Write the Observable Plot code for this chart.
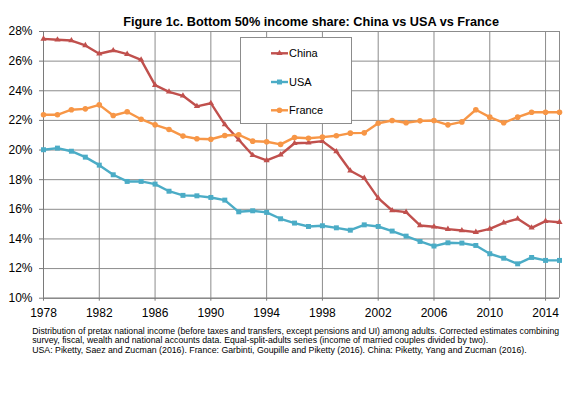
<!DOCTYPE html>
<html><head><meta charset="utf-8">
<script src="https://cdn.jsdelivr.net/npm/d3@7"></script>
<script src="https://cdn.jsdelivr.net/npm/@observablehq/plot@0.6"></script>
<style>
body{margin:0;background:#fff;font-family:Arial,"Liberation Sans",sans-serif;}
#wrap{position:relative;width:569px;height:398px;overflow:hidden;background:#fff}
#chart{position:absolute;left:0;top:0}
#legend{position:absolute;left:240px;top:37px;width:112px;height:87px;border:1px solid #8c8c8c;background:#fff;box-sizing:border-box}
#texts{position:absolute;left:0;top:0;pointer-events:none}
</style></head><body>
<div id="wrap"><div id="chart"></div>
<div id="legend"></div>
<svg id="texts" width="569" height="398"></svg></div>
<script>
const years = [1978,1979,1980,1981,1982,1983,1984,1985,1986,1987,1988,1989,1990,1991,1992,1993,1994,1995,1996,1997,1998,1999,2000,2001,2002,2003,2004,2005,2006,2007,2008,2009,2010,2011,2012,2013,2014,2015];
const china = [27.5,27.44,27.39,27.06,26.5,26.72,26.47,26.09,24.38,23.93,23.66,22.95,23.16,21.72,20.69,19.65,19.3,19.68,20.46,20.49,20.6,19.9,18.6,18.1,16.75,15.92,15.81,14.91,14.82,14.66,14.57,14.46,14.68,15.09,15.36,14.75,15.2,15.13];
const usa = [20.02,20.13,19.92,19.52,18.98,18.33,17.88,17.88,17.7,17.22,16.94,16.91,16.8,16.62,15.83,15.9,15.79,15.36,15.07,14.84,14.89,14.75,14.59,14.95,14.84,14.53,14.19,13.83,13.52,13.74,13.72,13.56,13.0,12.7,12.32,12.75,12.55,12.55];
const france = [22.38,22.38,22.72,22.78,23.05,22.33,22.58,22.08,21.7,21.39,20.94,20.76,20.73,20.98,21.03,20.6,20.56,20.38,20.85,20.8,20.87,20.96,21.14,21.16,21.81,21.99,21.84,21.97,21.99,21.7,21.9,22.72,22.22,21.84,22.22,22.55,22.55,22.55];
const xTicks = [1978,1982,1986,1990,1994,1998,2002,2006,2010,2014];
const yTicks = [10,12,14,16,18,20,22,24,26,28];
const seriesNames = ["China","USA","France"];
const seriesColors = ["#C0504D","#4BACC6","#F79646"];
const seriesSymbols = ["triangle","square","circle"];
const seriesValues = [china, usa, france];
const titleText = "Figure 1c. Bottom 50% income share: China vs USA vs France";
const captionLines = [
 "Distribution of pretax national income (before taxes and transfers, except pensions and UI) among adults. Corrected estimates combining",
 "survey, fiscal, wealth and national accounts data. Equal-split-adults series (income of married couples divided by two).",
 "USA: Piketty, Saez and Zucman (2016). France: Garbinti, Goupille and Piketty (2016). China: Piketty, Yang and Zucman (2016)."
];
const FONT = "Arial, 'Liberation Sans', sans-serif";

const seriesMarks = seriesNames.flatMap((name, k) => {
  const rows = years.map((yr, i) => ({year: yr, value: seriesValues[k][i]}));
  return [
    Plot.line(rows, {x: "year", y: "value", stroke: seriesColors[k], strokeWidth: 2.4}),
    Plot.dot(rows, {x: "year", y: "value", fill: seriesColors[k], stroke: "none", symbol: seriesSymbols[k], r: seriesSymbols[k] === "triangle" ? 2.3 : 2.8})
  ];
});

const plot = Plot.plot({
  width: 569, height: 322,
  marginTop: 31, marginBottom: 24.3, marginLeft: 43, marginRight: 10,
  style: {fontFamily: FONT, fontSize: "12px", background: "white", color: "#000"},
  x: {domain: [1978, 2015], label: null},
  y: {domain: [10, 28], label: null},
  marks: [
    Plot.gridX(xTicks, {stroke: "#8c8c8c", strokeOpacity: 1}),
    Plot.gridY(yTicks, {stroke: "#8c8c8c", strokeOpacity: 1}),
    Plot.ruleX([2015], {stroke: "#8c8c8c"}),
    Plot.ruleX([1978], {stroke: "#7a7a7a"}),
    Plot.ruleY([10], {stroke: "#7a7a7a"}),
    Plot.axisX(xTicks, {tickSize: 3, tickPadding: 7, tickFormat: d => String(d), stroke: "#7a7a7a", label: null}),
    Plot.axisY(yTicks, {tickSize: 4, tickPadding: 7, tickFormat: d => d + "%", stroke: "#7a7a7a", label: null}),
    ...seriesMarks
  ]
});
document.getElementById("chart").append(plot);

// legend
const rowsY = [15.3, 44, 72.3];
const lg = d3.select("#legend").append("svg").attr("width", 110).attr("height", 85)
  .style("position","absolute").style("left","0").style("top","0");
seriesNames.forEach((name, k) => {
  const g = lg.append("g").attr("transform", `translate(0,${rowsY[k]})`);
  g.append("line").attr("x1", 30).attr("x2", 47).attr("y1", 0).attr("y2", 0)
    .attr("stroke", seriesColors[k]).attr("stroke-width", 2.4);
  const sym = {triangle: d3.symbolTriangle, square: d3.symbolSquare, circle: d3.symbolCircle}[seriesSymbols[k]];
  const r = seriesSymbols[k] === "triangle" ? 2.3 : 2.8;
  g.append("path").attr("d", d3.symbol(sym, Math.PI * r * r)()).attr("transform", "translate(38.5,0)").attr("fill", seriesColors[k]);
  g.append("text").attr("x", 48).attr("y", 0).attr("dy", "0.35em").attr("font-size", 11)
    .attr("font-family", FONT).text(name);
});

// title and caption
const tx = d3.select("#texts");
tx.append("text").attr("x", 123.3).attr("y", 26.3).attr("font-family", FONT)
  .attr("font-size", 13).attr("font-weight", "bold")
  .attr("textLength", 375.7).attr("lengthAdjust", "spacingAndGlyphs").text(titleText);
const capBase = [333.5, 343.2, 352.8];
const capLen = [527, 456, 494.5];
captionLines.forEach((t, i) => {
  tx.append("text").attr("x", 32.2).attr("y", capBase[i]).attr("font-family", FONT)
    .attr("font-size", 8.6).attr("textLength", capLen[i]).attr("lengthAdjust", "spacingAndGlyphs").text(t);
});
</script>
</body></html>
